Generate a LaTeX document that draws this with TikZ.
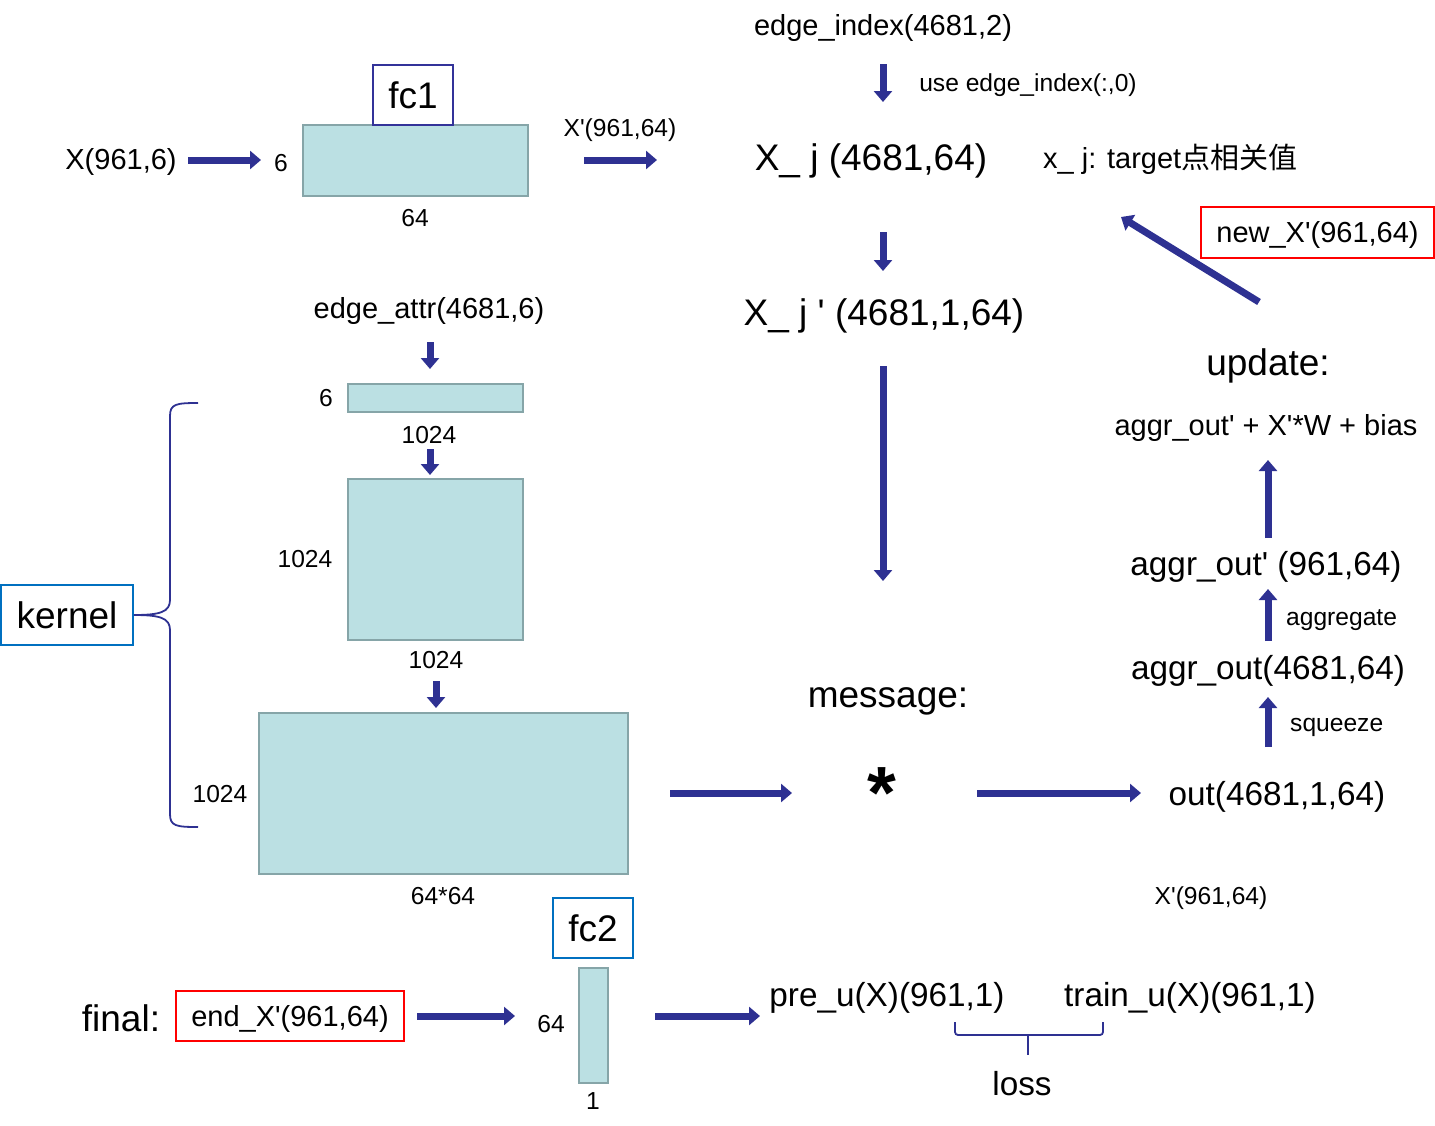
\documentclass[tikz,border=0pt]{standalone}
\usepackage{fontspec}
\setmainfont{Liberation Sans}[Ligatures=TeXOff]
\newfontfamily\cjk{Noto Sans CJK SC}
\usetikzlibrary{arrows.meta}
\definecolor{arrowc}{RGB}{46,49,146}
\definecolor{navyb}{RGB}{51,51,153}
\definecolor{blueb}{RGB}{0,112,192}
\definecolor{tealf}{RGB}{187,224,227}
\definecolor{teald}{RGB}{134,165,168}
\definecolor{redb}{RGB}{255,0,0}
\newcommand\fsA{\fontsize{37}{42}\selectfont}
\newcommand\fsB{\fontsize{33.3}{38}\selectfont}
\newcommand\fsC{\fontsize{29}{34}\selectfont}
\newcommand\fsD{\fontsize{24.6}{28}\selectfont}
\begin{document}
\begin{tikzpicture}[x=1pt,y=-1pt,
  arr/.style={draw=arrowc, line width=7pt, -{Triangle[length=11pt,width=18pt]}},
  lbl/.style={inner sep=0pt, text=black},
  tA/.style={lbl, font=\fsA},
  tB/.style={lbl, font=\fsB},
  tC/.style={lbl, font=\fsC},
  tD/.style={lbl, font=\fsD},
  tealbox/.style={draw=teald, fill=tealf, line width=2pt, inner sep=0pt},
  navybox/.style={draw=navyb, line width=2pt, inner sep=0pt, font=\fsA},
  bluebox/.style={draw=blueb, line width=2pt, inner sep=0pt, font=\fsA},
  redbox/.style={draw=redb, line width=2pt, inner sep=0pt, font=\fsC},
  bracec/.style={draw=arrowc, line width=1.8pt}
]
\useasboundingbox (0,0) rectangle (1435,1125);

% ---- top-left: fc1 ----
\node[tC] (xin) at (121,162) {X(961,6)};
\node[tealbox, minimum width=225pt, minimum height=71pt] (fc1r) at (415.5,160.5) {};
\node[navybox, minimum width=80pt, minimum height=60pt] (fc1) at (413,95) {fc1};
\node[tD] (fc1in) at (281,163) {6};
\node[tD] (fc1out) at (415,218) {64};
\node[tD] (xp1) at (620,130) {X'(961,64)};
\coordinate (a1s) at (188,160); \coordinate (a1e) at (261,160);
\coordinate (a2s) at (584,160); \coordinate (a2e) at (657,160);
\draw[arr] (a1s) -- (a1e);
\draw[arr] (a2s) -- (a2e);

% ---- top-middle ----
\node[tC] (eidx) at (883,28) {edge\_index(4681,2)};
\node[tD] (use) at (1028,85) {use edge\_index(:,0)};
\node[tA] (xj) at (871,161) {X\_ j (4681,64)};
\node[tC, anchor=west] (xjnote) at (1043,159) {x\_ j: target{\cjk 点相关值}};
\node[tA] (xjp) at (884,316) {X\_ j ' (4681,1,64)};
\coordinate (a3s) at (883,64); \coordinate (a3e) at (883,102);
\coordinate (a4s) at (883,232); \coordinate (a4e) at (883,271);
\coordinate (a5s) at (883,366); \coordinate (a5e) at (883,581);
\draw[arr] (a3s) -- (a3e);
\draw[arr] (a4s) -- (a4e);
\draw[arr] (a5s) -- (a5e);

% ---- new_X' ----
\node[redbox, minimum width=233pt, minimum height=51pt, text height=25pt, text depth=6pt] (newx) at (1317.5,232.5) {new\_X'(961,64)};
\coordinate (a6s) at (1259,302); \coordinate (a6e) at (1121,217);
\draw[arr] (a6s) -- (a6e);

% ---- kernel column ----
\node[tC] (eattr) at (429,311) {edge\_attr(4681,6)};
\node[tealbox, minimum width=175pt, minimum height=28pt] (k1) at (435.5,398) {};
\node[tealbox, minimum width=175pt, minimum height=161pt] (k2) at (435.5,559.5) {};
\node[tealbox, minimum width=369pt, minimum height=161pt] (k3) at (443.5,793.5) {};
\node[tD] (k1l) at (326,398) {6};
\node[tD] (k1b) at (429,435) {1024};
\node[tD] (k2l) at (305,559) {1024};
\node[tD] (k2b) at (436,660) {1024};
\node[tD] (k3l) at (220,794) {1024};
\node[tD] (k3b) at (443,896) {64*64};
\coordinate (a7s) at (430,342); \coordinate (a7e) at (430,369);
\coordinate (a8s) at (430,449); \coordinate (a8e) at (430,475);
\coordinate (a9s) at (436,681); \coordinate (a9e) at (436,708);
\draw[arr] (a7s) -- (a7e);
\draw[arr] (a8s) -- (a8e);
\draw[arr] (a9s) -- (a9e);

% kernel label and brace
\node[bluebox, minimum width=132pt, minimum height=60pt] (kern) at (67,615) {kernel};
\coordinate (brt) at (198,403);
\coordinate (brb) at (198,827);
\draw[bracec] (brt) .. controls (176,403) and (170,404) .. (170,416)
  -- (170,600) .. controls (170,612) and (160,615) .. (kern.east)
  .. controls (160,615) and (170,618) .. (170,630)
  -- (170,814) .. controls (170,826) and (176,827) .. (brb);

% ---- message ----
\node[tA] (msg) at (888,701) {message:};
\node[lbl, font=\fontsize{74}{80}\selectfont\bfseries] (star) at (882,793) {*};
\coordinate (a10s) at (670,793); \coordinate (a10e) at (792,793);
\coordinate (a11s) at (977,793); \coordinate (a11e) at (1141,793);
\draw[arr] (a10s) -- (a10e);
\draw[arr] (a11s) -- (a11e);

% ---- update column ----
\node[tA] (upd) at (1268,366) {update:};
\node[tC] (form) at (1266,428) {aggr\_out' + X'*W + bias};
\node[tB] (aggp) at (1266,567) {aggr\_out' (961,64)};
\node[tD, anchor=west] (aggl) at (1286,620) {aggregate};
\node[tB] (agg) at (1268,671) {aggr\_out(4681,64)};
\node[tD, anchor=west] (sql) at (1290,727) {squeeze};
\node[tB] (out) at (1277,797) {out(4681,1,64)};
\node[tD] (xp2) at (1211,898) {X'(961,64)};
\coordinate (a12s) at (1268,747); \coordinate (a12e) at (1268,697);
\coordinate (a13s) at (1268,641); \coordinate (a13e) at (1268,589);
\coordinate (a14s) at (1268,538); \coordinate (a14e) at (1268,460);
\draw[arr] (a12s) -- (a12e);
\draw[arr] (a13s) -- (a13e);
\draw[arr] (a14s) -- (a14e);

% ---- final row ----
\node[tA] (fin) at (121,1018) {final:};
\node[redbox, minimum width=228pt, minimum height=50pt, text height=27pt, text depth=6pt] (endx) at (290,1016) {end\_X'(961,64)};
\node[bluebox, minimum width=80pt, minimum height=60pt] (fc2) at (593,928) {fc2};
\node[tealbox, minimum width=29pt, minimum height=115pt] (fc2r) at (593.5,1025.5) {};
\node[tD] (fc2l) at (551,1024) {64};
\node[tD] (fc2b) at (593,1101) {1};
\node[tB] (pre) at (887,998) {pre\_u(X)(961,1)};
\node[tB] (train) at (1190,998) {train\_u(X)(961,1)};
\node[tB] (loss) at (1022,1084) {loss};
\coordinate (a15s) at (417,1016); \coordinate (a15e) at (515,1016);
\coordinate (a16s) at (655,1016); \coordinate (a16e) at (760,1016);
\draw[arr] (a15s) -- (a15e);
\draw[arr] (a16s) -- (a16e);
\coordinate (lbl1) at (955,1022); \coordinate (lbr1) at (1103,1022);
\coordinate (lbm) at (1028,1035); \coordinate (lbt) at (1028,1055);
\draw[bracec, rounded corners=3pt] (lbl1) |- (lbm) -| (lbr1);
\draw[bracec] (lbm) -- (lbt);
\end{tikzpicture}
\end{document}
